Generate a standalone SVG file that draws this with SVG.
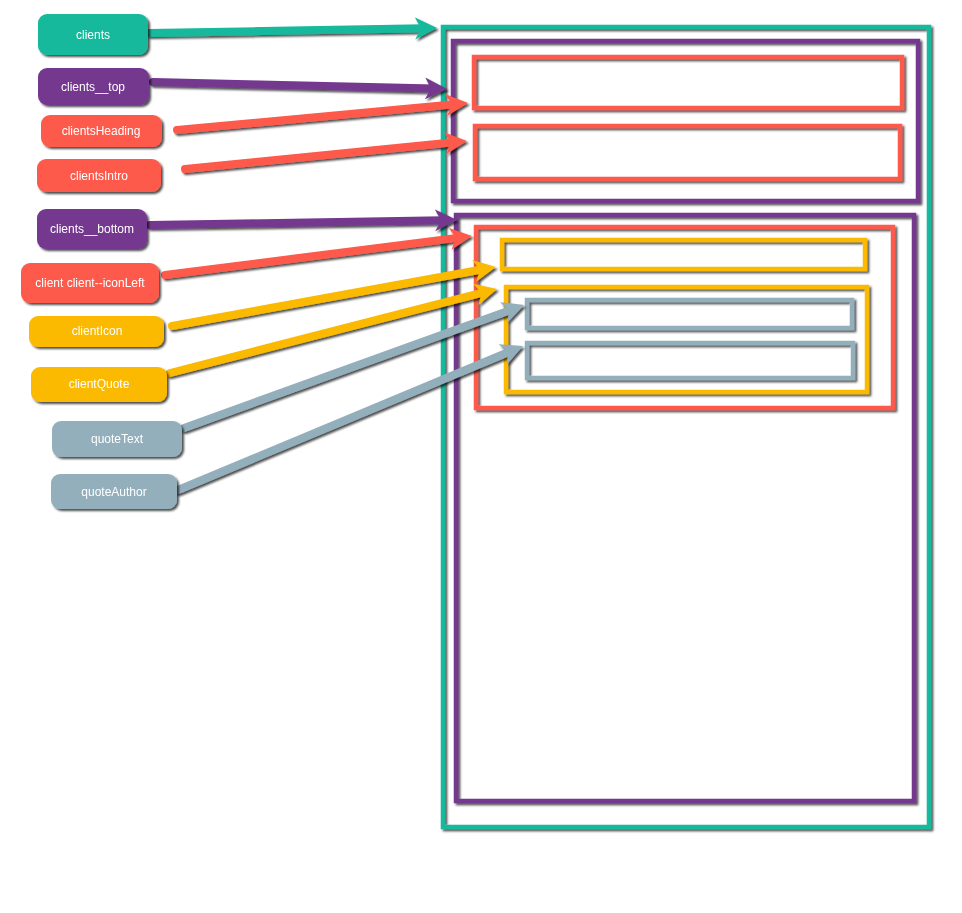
<svg xmlns="http://www.w3.org/2000/svg" width="962" height="913" viewBox="0 0 962 913">
<style>
.node rect{stroke:none}
.node text{font-family:"Liberation Sans",Arial,sans-serif;font-size:12px;fill:#fff;text-anchor:middle;dominant-baseline:central}
.box{fill:none;stroke-width:4.5}
.c{stroke-width:8;stroke-linecap:round;fill:none}
.teal{fill:#13b99b}.purple{fill:#74378f}.red{fill:#fd5a4c}.yellow{fill:#fbb900}.gray{fill:#93afbc}
.steal{stroke:#13b99b}.spurple{stroke:#74378f}.sred{stroke:#fd5a4c}.syellow{stroke:#fbb900}.sgray{stroke:#93afbc}
</style>
<defs>
<filter id="sh" x="-10%" y="-10%" width="130%" height="130%">
<feDropShadow dx="2" dy="2" stdDeviation="1" flood-color="#000" flood-opacity="0.7"/>
</filter>
<marker id="mteal" viewBox="0 0 12 12" markerUnits="userSpaceOnUse" markerWidth="24" markerHeight="24" refX="4.5" refY="6" orient="auto"><path d="M0,0.5 L11,6 L0,11.5 L3,6 z" fill="#13b99b"/></marker>
<marker id="mpurple" viewBox="0 0 12 12" markerUnits="userSpaceOnUse" markerWidth="24" markerHeight="24" refX="4.5" refY="6" orient="auto"><path d="M0,0.5 L11,6 L0,11.5 L3,6 z" fill="#74378f"/></marker>
<marker id="mred" viewBox="0 0 12 12" markerUnits="userSpaceOnUse" markerWidth="24" markerHeight="24" refX="4.5" refY="6" orient="auto"><path d="M0,0.5 L11,6 L0,11.5 L3,6 z" fill="#fd5a4c"/></marker>
<marker id="myellow" viewBox="0 0 12 12" markerUnits="userSpaceOnUse" markerWidth="24" markerHeight="24" refX="4.5" refY="6" orient="auto"><path d="M0,0.5 L11,6 L0,11.5 L3,6 z" fill="#fbb900"/></marker>
<marker id="mgray" viewBox="0 0 12 12" markerUnits="userSpaceOnUse" markerWidth="24" markerHeight="24" refX="4.5" refY="6" orient="auto"><path d="M0,0.5 L11,6 L0,11.5 L3,6 z" fill="#93afbc"/></marker>
</defs>
<rect width="962" height="913" fill="#fff"/>
<g id="layout" filter="url(#sh)">
<rect class="box steal" x="443" y="27" width="486" height="800"/>
<rect class="box spurple" x="453" y="41" width="465" height="160"/>
<rect class="box sred" x="474" y="57" width="428" height="51"/>
<rect class="box sred" x="475" y="126" width="425" height="53"/>
<rect class="box spurple" x="456" y="215" width="458" height="586"/>
<rect class="box sred" x="476" y="227" width="417" height="181"/>
<rect class="box syellow" x="502" y="240" width="363" height="29"/>
<rect class="box syellow" x="506" y="287" width="361" height="105"/>
<rect class="box sgray" x="527" y="300" width="325" height="28"/>
<rect class="box sgray" x="527" y="343" width="326" height="35"/>
</g>
<g id="connectors" filter="url(#sh)">
<path class="c steal" d="M150,33 L424,28.3" marker-end="url(#mteal)"/>
<path class="c spurple" d="M153,82 L434,88.6" marker-end="url(#mpurple)"/>
<path class="c sred" d="M177,130 L455,104.2" marker-end="url(#mred)"/>
<path class="c sred" d="M185,169 L454,142.3" marker-end="url(#mred)"/>
<path class="c spurple" d="M150,225 L444,220.2" marker-end="url(#mpurple)"/>
<path class="c sred" d="M165,275 L459,237.6" marker-end="url(#mred)"/>
<path class="c syellow" d="M172,326 L483,269.3" marker-end="url(#myellow)"/>
<path class="c syellow" d="M170,373 L484.5,292.2" marker-end="url(#myellow)"/>
<path class="c sgray" d="M184,428 L512,309.4" marker-end="url(#mgray)"/>
<path class="c sgray" d="M178,490 L511,351" marker-end="url(#mgray)"/>
</g>
<g filter="url(#sh)">
<g id="n-clients" class="node"><rect class="teal" x="38" y="14" width="110" height="41" rx="9"/><text x="93" y="35">clients</text></g>
<g id="n-clients-top" class="node"><rect class="purple" x="38" y="68" width="111" height="37" rx="9"/><text x="93" y="87">clients__top</text></g>
<g id="n-clientsHeading" class="node"><rect class="red" x="41" y="115" width="121" height="32" rx="9"/><text x="101" y="131">clientsHeading</text></g>
<g id="n-clientsIntro" class="node"><rect class="red" x="37" y="159" width="124" height="33" rx="9"/><text x="99" y="176">clientsIntro</text></g>
<g id="n-clients-bottom" class="node"><rect class="purple" x="37" y="209" width="110" height="40" rx="9"/><text x="92" y="229">clients__bottom</text></g>
<g id="n-client" class="node"><rect class="red" x="21" y="263" width="138" height="40" rx="9"/><text x="90" y="283">client client--iconLeft</text></g>
<g id="n-clientIcon" class="node"><rect class="yellow" x="29" y="316" width="135" height="31" rx="9"/><text x="97" y="331">clientIcon</text></g>
<g id="n-clientQuote" class="node"><rect class="yellow" x="31" y="367" width="136" height="35" rx="9"/><text x="99" y="384">clientQuote</text></g>
<g id="n-quoteText" class="node"><rect class="gray" x="52" y="421" width="130" height="36" rx="9"/><text x="117" y="439">quoteText</text></g>
<g id="n-quoteAuthor" class="node"><rect class="gray" x="51" y="474" width="126" height="35" rx="9"/><text x="114" y="492">quoteAuthor</text></g>
</g>
</svg>
